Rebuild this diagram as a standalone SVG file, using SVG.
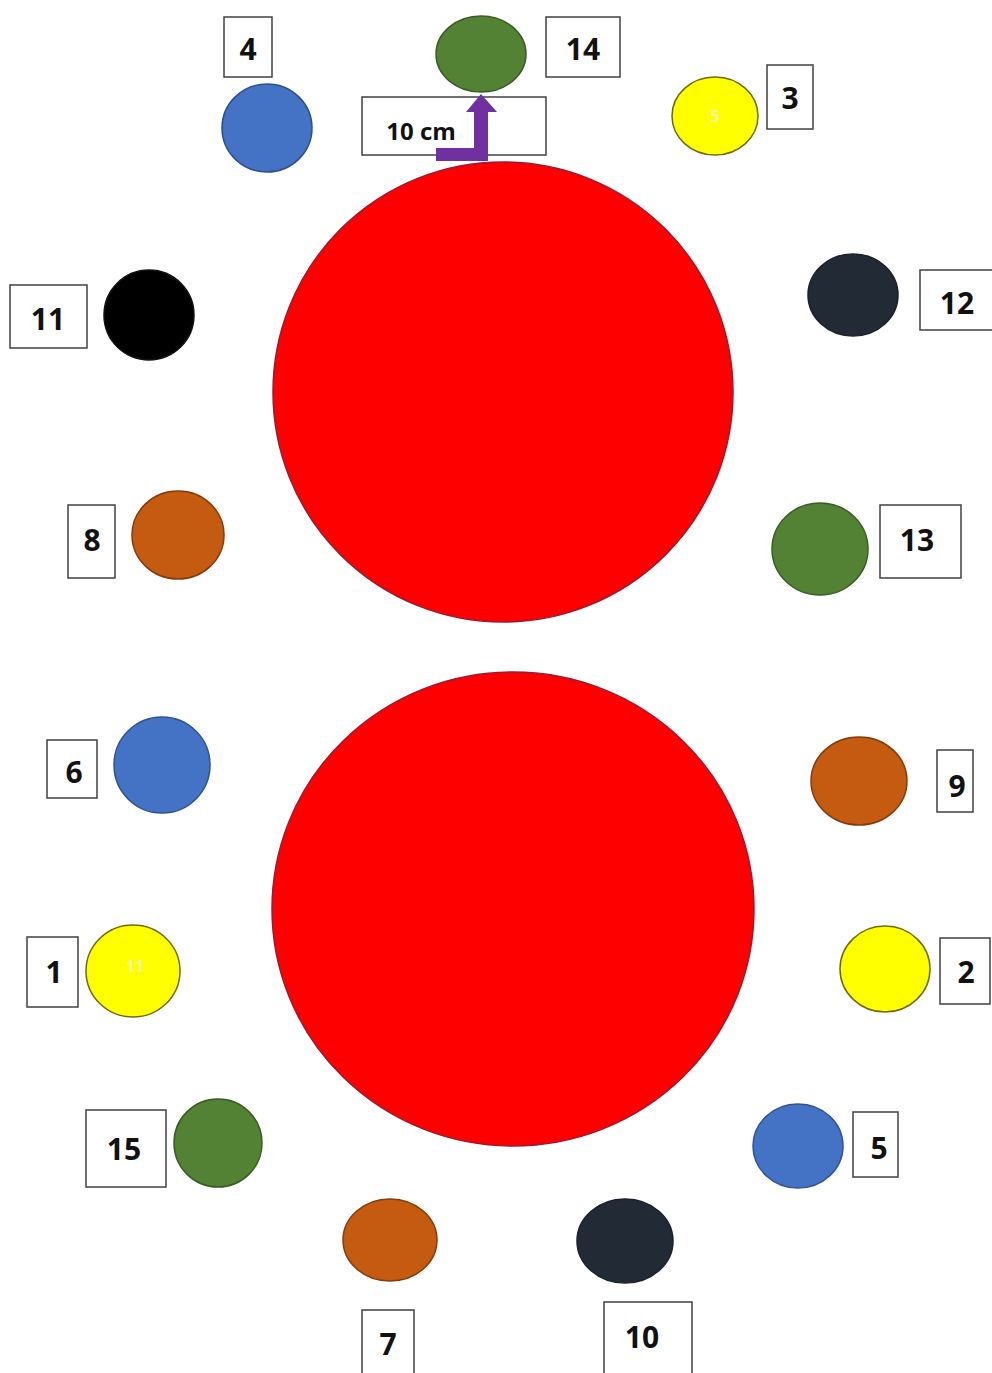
<svg xmlns="http://www.w3.org/2000/svg" width="992" height="1373" viewBox="0 0 992 1373">
<style>
.box{fill:#fff;stroke:#404040;stroke-width:1.5}
.lbl{font-family:"Open Sans","Liberation Sans",sans-serif;font-weight:bold;font-size:30px;fill:#111;text-anchor:middle;dominant-baseline:central}
.big{fill:#ff0000;stroke:#9c1a30;stroke-width:1.5}
.blue{fill:#4472c4;stroke:#2f528f;stroke-width:1.5}
.green{fill:#548235;stroke:#3a5c25;stroke-width:1.5}
.orange{fill:#c55a11;stroke:#843c0c;stroke-width:1.5}
.navy{fill:#222a35;stroke:#1a2029;stroke-width:1.5}
.black{fill:#000;stroke:#111;stroke-width:1.5}
.yellow{fill:#ffff00;stroke:#6b6b10;stroke-width:1.5}
.faint{font-family:"Open Sans","Liberation Sans",sans-serif;font-weight:bold;font-size:16px;fill:#f5f5a0;text-anchor:middle;dominant-baseline:central}
</style>
<rect width="992" height="1373" fill="#fff"/>
<g id="table-top"><ellipse class="big" cx="503" cy="392" rx="230" ry="230"/></g>
<g id="table-bottom"><ellipse class="big" cx="513" cy="909" rx="241" ry="237"/></g>
<g id="n14"><ellipse class="green" cx="481" cy="54" rx="45" ry="38"/><rect class="box" x="546" y="17" width="74" height="60"/><text class="lbl" x="583" y="48">14</text></g>
<g id="n4"><ellipse class="blue" cx="267" cy="128" rx="45" ry="44"/><rect class="box" x="224" y="17" width="48" height="60"/><text class="lbl" x="248" y="48">4</text></g>
<g id="n3"><ellipse class="yellow" cx="715" cy="116" rx="43" ry="39"/><text class="faint" x="715" y="116">5</text><rect class="box" x="767" y="65" width="46" height="64"/><text class="lbl" x="790" y="97">3</text></g>
<g id="n11"><ellipse class="black" cx="149" cy="315" rx="45" ry="45"/><rect class="box" x="10" y="285" width="77" height="63"/><text class="lbl" x="48" y="318">11</text></g>
<g id="n12"><ellipse class="navy" cx="853" cy="295" rx="45" ry="41"/><rect class="box" x="920" y="270" width="74" height="60"/><text class="lbl" x="957" y="302">12</text></g>
<g id="n8"><ellipse class="orange" cx="178" cy="535" rx="46" ry="44"/><rect class="box" x="68" y="505" width="47" height="73"/><text class="lbl" x="92" y="539">8</text></g>
<g id="n13"><ellipse class="green" cx="820" cy="549" rx="48" ry="46"/><rect class="box" x="880" y="505" width="81" height="73"/><text class="lbl" x="917" y="539">13</text></g>
<g id="n6"><ellipse class="blue" cx="162" cy="765" rx="48" ry="48"/><rect class="box" x="47" y="740" width="50" height="58"/><text class="lbl" x="74" y="771">6</text></g>
<g id="n9"><ellipse class="orange" cx="859" cy="781" rx="48" ry="44"/><rect class="box" x="937" y="750" width="36" height="62"/><text class="lbl" x="957" y="785">9</text></g>
<g id="n1"><ellipse class="yellow" cx="133" cy="971" rx="47" ry="46"/><text class="faint" x="135" y="966">11</text><rect class="box" x="27" y="937" width="51" height="70"/><text class="lbl" x="54" y="971">1</text></g>
<g id="n2"><ellipse class="yellow" cx="885" cy="969" rx="45" ry="43"/><rect class="box" x="940" y="938" width="50" height="66"/><text class="lbl" x="966" y="971">2</text></g>
<g id="n15"><ellipse class="green" cx="218" cy="1143" rx="44" ry="44"/><rect class="box" x="86" y="1110" width="80" height="77"/><text class="lbl" x="124" y="1148">15</text></g>
<g id="n5"><ellipse class="blue" cx="798" cy="1146" rx="45" ry="42"/><rect class="box" x="853" y="1112" width="45" height="65"/><text class="lbl" x="879" y="1147">5</text></g>
<g id="n7"><ellipse class="orange" cx="390" cy="1240" rx="47" ry="41"/><rect class="box" x="362" y="1310" width="52" height="70"/><text class="lbl" x="388" y="1343">7</text></g>
<g id="n10"><ellipse class="navy" cx="625" cy="1241" rx="48" ry="42"/><rect class="box" x="604" y="1302" width="88" height="80"/><text class="lbl" x="642" y="1336">10</text></g>
<g id="measure">
<rect class="box" x="362" y="97" width="184" height="58"/>
<text x="421" y="130" style="font-family:'Open Sans','Liberation Sans',sans-serif;font-weight:bold;font-size:24px;fill:#111;text-anchor:middle;dominant-baseline:central">10 cm</text>
</g>
<g id="connectors">
<path d="M436 148 H474 V112 H466 L481 94 L497 112 H488 V161 H436 Z" fill="#7030a0"/>
</g>
</svg>
